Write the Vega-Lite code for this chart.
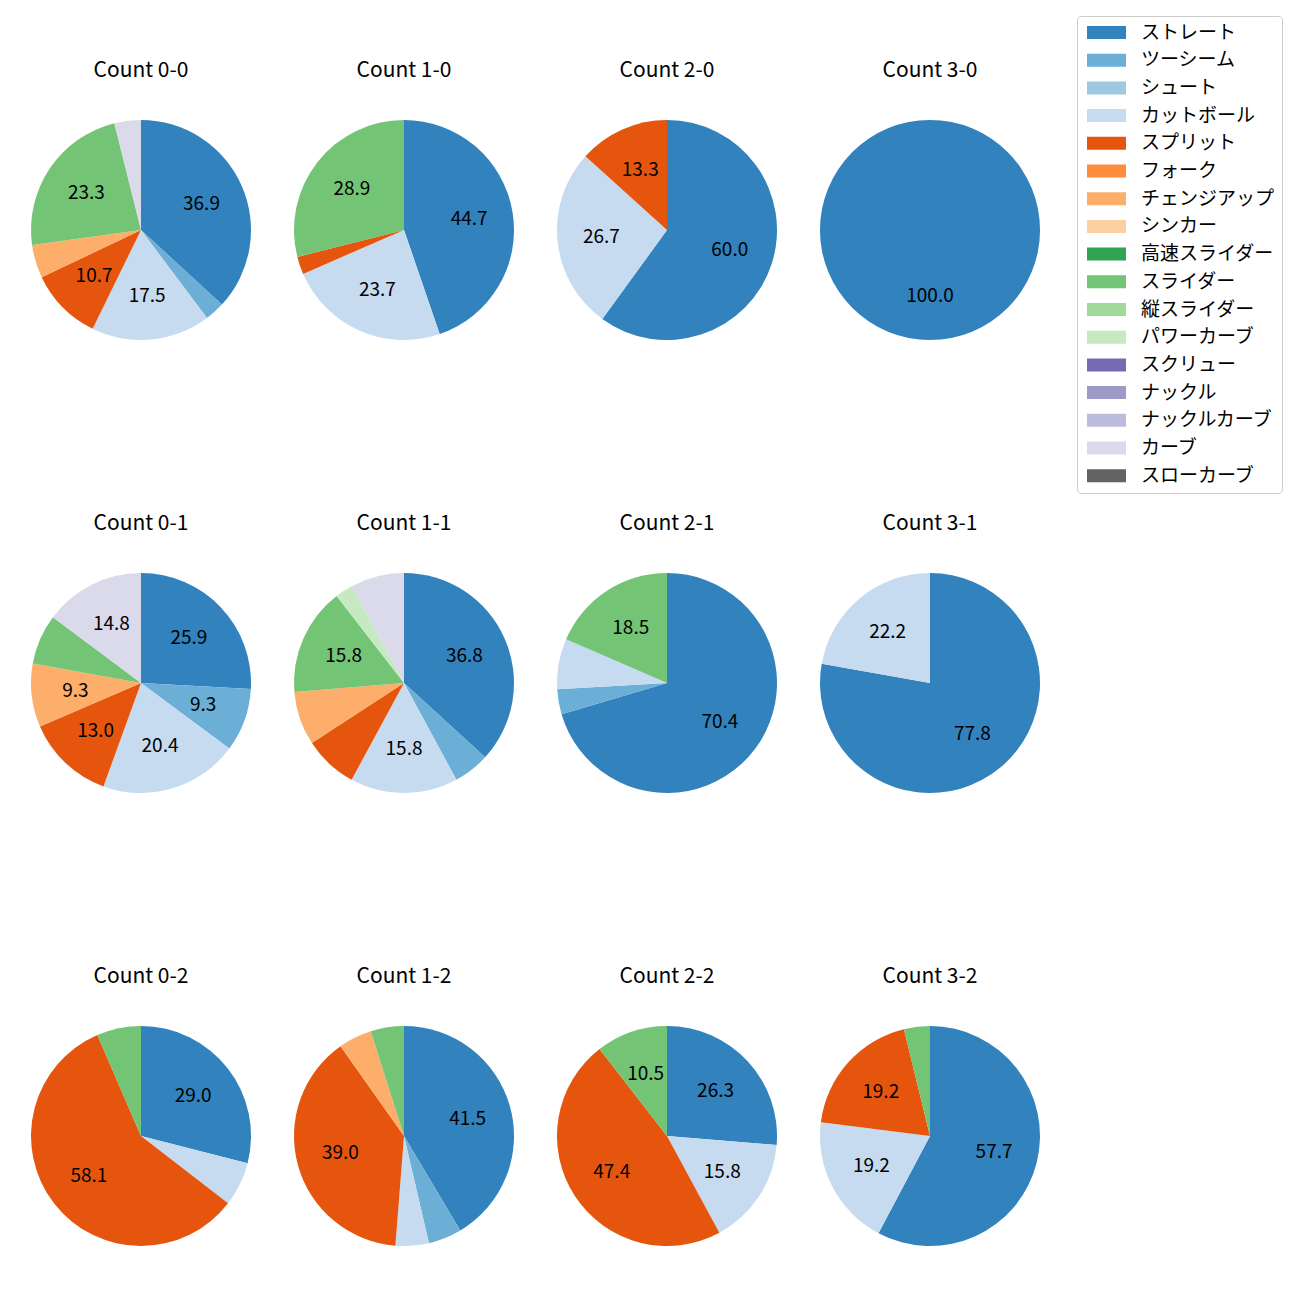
{
  "$schema": "https://vega.github.io/schema/vega-lite/v6.json",
  "background": "white",
  "padding": {"left": 21, "top": 15, "right": 0, "bottom": 0},
  "data": {"values": [
    {"count": "Count 0-0", "ord": 0, "pitch": "ストレート", "k": 0, "pct": 36.9},
    {"count": "Count 0-0", "ord": 0, "pitch": "ツーシーム", "k": 1, "pct": 2.9},
    {"count": "Count 0-0", "ord": 0, "pitch": "カットボール", "k": 3, "pct": 17.5},
    {"count": "Count 0-0", "ord": 0, "pitch": "スプリット", "k": 4, "pct": 10.7},
    {"count": "Count 0-0", "ord": 0, "pitch": "チェンジアップ", "k": 6, "pct": 4.9},
    {"count": "Count 0-0", "ord": 0, "pitch": "スライダー", "k": 9, "pct": 23.3},
    {"count": "Count 0-0", "ord": 0, "pitch": "カーブ", "k": 15, "pct": 3.9},
    {"count": "Count 1-0", "ord": 1, "pitch": "ストレート", "k": 0, "pct": 44.7},
    {"count": "Count 1-0", "ord": 1, "pitch": "カットボール", "k": 3, "pct": 23.7},
    {"count": "Count 1-0", "ord": 1, "pitch": "スプリット", "k": 4, "pct": 2.6},
    {"count": "Count 1-0", "ord": 1, "pitch": "スライダー", "k": 9, "pct": 28.9},
    {"count": "Count 2-0", "ord": 2, "pitch": "ストレート", "k": 0, "pct": 60.0},
    {"count": "Count 2-0", "ord": 2, "pitch": "カットボール", "k": 3, "pct": 26.7},
    {"count": "Count 2-0", "ord": 2, "pitch": "スプリット", "k": 4, "pct": 13.3},
    {"count": "Count 3-0", "ord": 3, "pitch": "ストレート", "k": 0, "pct": 100.0},
    {"count": "Count 0-1", "ord": 4, "pitch": "ストレート", "k": 0, "pct": 25.9},
    {"count": "Count 0-1", "ord": 4, "pitch": "ツーシーム", "k": 1, "pct": 9.3},
    {"count": "Count 0-1", "ord": 4, "pitch": "カットボール", "k": 3, "pct": 20.4},
    {"count": "Count 0-1", "ord": 4, "pitch": "スプリット", "k": 4, "pct": 13.0},
    {"count": "Count 0-1", "ord": 4, "pitch": "チェンジアップ", "k": 6, "pct": 9.3},
    {"count": "Count 0-1", "ord": 4, "pitch": "スライダー", "k": 9, "pct": 7.4},
    {"count": "Count 0-1", "ord": 4, "pitch": "カーブ", "k": 15, "pct": 14.8},
    {"count": "Count 1-1", "ord": 5, "pitch": "ストレート", "k": 0, "pct": 36.8},
    {"count": "Count 1-1", "ord": 5, "pitch": "ツーシーム", "k": 1, "pct": 5.3},
    {"count": "Count 1-1", "ord": 5, "pitch": "カットボール", "k": 3, "pct": 15.8},
    {"count": "Count 1-1", "ord": 5, "pitch": "スプリット", "k": 4, "pct": 7.9},
    {"count": "Count 1-1", "ord": 5, "pitch": "チェンジアップ", "k": 6, "pct": 7.9},
    {"count": "Count 1-1", "ord": 5, "pitch": "スライダー", "k": 9, "pct": 15.8},
    {"count": "Count 1-1", "ord": 5, "pitch": "パワーカーブ", "k": 11, "pct": 2.6},
    {"count": "Count 1-1", "ord": 5, "pitch": "カーブ", "k": 15, "pct": 7.9},
    {"count": "Count 2-1", "ord": 6, "pitch": "ストレート", "k": 0, "pct": 70.4},
    {"count": "Count 2-1", "ord": 6, "pitch": "ツーシーム", "k": 1, "pct": 3.7},
    {"count": "Count 2-1", "ord": 6, "pitch": "カットボール", "k": 3, "pct": 7.4},
    {"count": "Count 2-1", "ord": 6, "pitch": "スライダー", "k": 9, "pct": 18.5},
    {"count": "Count 3-1", "ord": 7, "pitch": "ストレート", "k": 0, "pct": 77.8},
    {"count": "Count 3-1", "ord": 7, "pitch": "カットボール", "k": 3, "pct": 22.2},
    {"count": "Count 0-2", "ord": 8, "pitch": "ストレート", "k": 0, "pct": 29.0},
    {"count": "Count 0-2", "ord": 8, "pitch": "カットボール", "k": 3, "pct": 6.5},
    {"count": "Count 0-2", "ord": 8, "pitch": "スプリット", "k": 4, "pct": 58.1},
    {"count": "Count 0-2", "ord": 8, "pitch": "スライダー", "k": 9, "pct": 6.5},
    {"count": "Count 1-2", "ord": 9, "pitch": "ストレート", "k": 0, "pct": 41.5},
    {"count": "Count 1-2", "ord": 9, "pitch": "ツーシーム", "k": 1, "pct": 4.9},
    {"count": "Count 1-2", "ord": 9, "pitch": "カットボール", "k": 3, "pct": 4.9},
    {"count": "Count 1-2", "ord": 9, "pitch": "スプリット", "k": 4, "pct": 39.0},
    {"count": "Count 1-2", "ord": 9, "pitch": "チェンジアップ", "k": 6, "pct": 4.9},
    {"count": "Count 1-2", "ord": 9, "pitch": "スライダー", "k": 9, "pct": 4.9},
    {"count": "Count 2-2", "ord": 10, "pitch": "ストレート", "k": 0, "pct": 26.3},
    {"count": "Count 2-2", "ord": 10, "pitch": "カットボール", "k": 3, "pct": 15.8},
    {"count": "Count 2-2", "ord": 10, "pitch": "スプリット", "k": 4, "pct": 47.4},
    {"count": "Count 2-2", "ord": 10, "pitch": "スライダー", "k": 9, "pct": 10.5},
    {"count": "Count 3-2", "ord": 11, "pitch": "ストレート", "k": 0, "pct": 57.7},
    {"count": "Count 3-2", "ord": 11, "pitch": "カットボール", "k": 3, "pct": 19.2},
    {"count": "Count 3-2", "ord": 11, "pitch": "スプリット", "k": 4, "pct": 19.2},
    {"count": "Count 3-2", "ord": 11, "pitch": "スライダー", "k": 9, "pct": 3.8}
  ]},
  "facet": {
    "field": "count",
    "type": "nominal",
    "sort": {"field": "ord", "op": "min"},
    "header": {
      "title": null,
      "labelFont": "Noto Sans CJK JP",
      "labelFontSize": 21,
      "labelColor": "black",
      "labelPadding": 39
    }
  },
  "columns": 4,
  "spacing": {"row": 173, "column": 23},
  "spec": {
    "width": 240,
    "height": 220,
    "layer": [
      {
        "mark": {"type": "arc", "radius": 110, "stroke": null, "strokeWidth": 0},
        "encoding": {
          "theta": {"field": "pct", "type": "quantitative", "stack": true},
          "order": {"field": "k", "type": "quantitative"},
          "color": {
            "field": "pitch",
            "type": "nominal",
            "scale": {
              "domain": ["ストレート", "ツーシーム", "シュート", "カットボール", "スプリット", "フォーク", "チェンジアップ", "シンカー", "高速スライダー", "スライダー", "縦スライダー", "パワーカーブ", "スクリュー", "ナックル", "ナックルカーブ", "カーブ", "スローカーブ"],
              "range": ["#3182bd", "#6baed6", "#9ecae1", "#c6dbef", "#e6550d", "#fd8d3c", "#fdae6b", "#fdd0a2", "#31a354", "#74c476", "#a1d99b", "#c7e9c0", "#756bb1", "#9e9ac8", "#bcbddc", "#dadaeb", "#636363"]
            },
            "legend": {
              "title": null,
              "orient": "none",
              "legendX": 1056,
              "legendY": -104,
              "values": ["ストレート", "ツーシーム", "シュート", "カットボール", "スプリット", "フォーク", "チェンジアップ", "シンカー", "高速スライダー", "スライダー", "縦スライダー", "パワーカーブ", "スクリュー", "ナックル", "ナックルカーブ", "カーブ", "スローカーブ"],
              "symbolType": "M-3,-1H3V1H-3Z",
              "symbolSize": 169,
              "symbolOffset": 13,
              "symbolStrokeWidth": 0,
              "symbolOpacity": 1,
              "labelOffset": 25,
              "labelFont": "Noto Sans CJK JP",
              "labelFontSize": 19,
              "labelColor": "black",
              "rowPadding": 7.7,
              "padding": 7,
              "strokeColor": "#cccccc",
              "cornerRadius": 4,
              "fillColor": "white"
            }
          }
        }
      },
      {
        "mark": {"type": "text", "radius": 66, "font": "Noto Sans CJK JP", "fontSize": 19, "color": "black"},
        "encoding": {
          "theta": {"field": "pct", "type": "quantitative", "stack": true},
          "order": {"field": "k", "type": "quantitative"},
          "text": {
            "condition": {"test": "datum.pct >= 9", "field": "pct", "type": "quantitative", "format": ".1f"},
            "value": ""
          }
        }
      }
    ]
  },
  "resolve": {"scale": {"theta": "independent"}},
  "config": {"view": {"stroke": null}}
}
